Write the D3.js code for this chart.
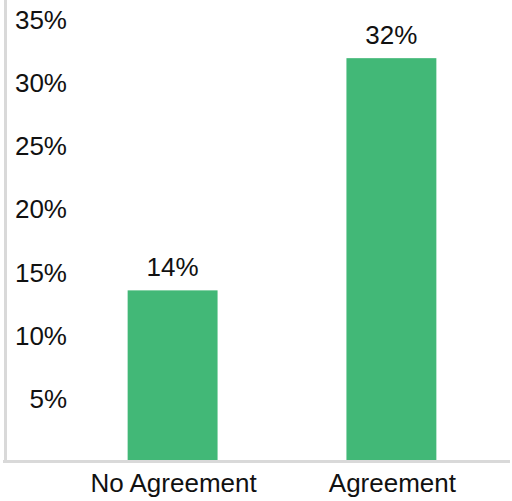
<!DOCTYPE html>
<html>
<head>
<meta charset="utf-8">
<script src="https://cdn.jsdelivr.net/npm/d3@7"></script>
<style>
  html, body { margin: 0; padding: 0; background: #fff; }
  svg { display: block; }
  text { font-family: "Liberation Sans", Arial, sans-serif; fill: #111; }
</style>
</head>
<body>
<script>
const categories = ["No Agreement", "Agreement"];
const values = [13.6, 32];
const tickValues = [5, 10, 15, 20, 25, 30, 35];

const W = 512, H = 501;
const svg = d3.select("body").append("svg").attr("width", W).attr("height", H);

const y = d3.scaleLinear().domain([0, 35]).range([462, 20.3]);
const x = d3.scaleBand().domain(categories).range([62, 502])
  .paddingInner(0.589).paddingOuter(0.3);

// bars
svg.selectAll("rect.bar").data(values).join("rect")
  .attr("class", "bar")
  .attr("x", (d, i) => x(categories[i]))
  .attr("width", x.bandwidth())
  .attr("y", d => y(d))
  .attr("height", d => y(0) - y(d))
  .attr("fill", "#42b877");

// value labels
svg.selectAll("text.val").data(values).join("text")
  .attr("class", "val")
  .attr("x", (d, i) => x(categories[i]) + x.bandwidth() / 2)
  .attr("y", d => y(d) - 14)
  .attr("text-anchor", "middle")
  .attr("font-size", 26)
  .text(d => Math.round(d) + "%");

// y axis (labels only + line)
const yAxis = d3.axisLeft(y).tickValues(tickValues).tickSize(0).tickPadding(0)
  .tickFormat(d => d + "%");
const gy = svg.append("g").attr("transform", "translate(67,0)").call(yAxis);
gy.select(".domain").remove();
gy.selectAll("text").attr("font-size", 26).attr("fill", "#111")
  .attr("font-family", "'Liberation Sans', Arial, sans-serif");

// x axis labels
const xAxis = d3.axisBottom(x).tickSize(0).tickPadding(0);
const gx = svg.append("g").attr("transform", "translate(1,474)").call(xAxis);
gx.select(".domain").remove();
gx.selectAll("text").attr("font-size", 26).attr("fill", "#111")
  .attr("font-family", "'Liberation Sans', Arial, sans-serif");

// axis lines
svg.append("line").attr("x1", 5.5).attr("x2", 5.5).attr("y1", 0).attr("y2", 463)
  .attr("stroke", "#d9d9d9").attr("stroke-width", 3);
svg.append("line").attr("x1", 3).attr("x2", 510).attr("y1", 461.5).attr("y2", 461.5)
  .attr("stroke", "#d9d9d9").attr("stroke-width", 3);
</script>
</body>
</html>
